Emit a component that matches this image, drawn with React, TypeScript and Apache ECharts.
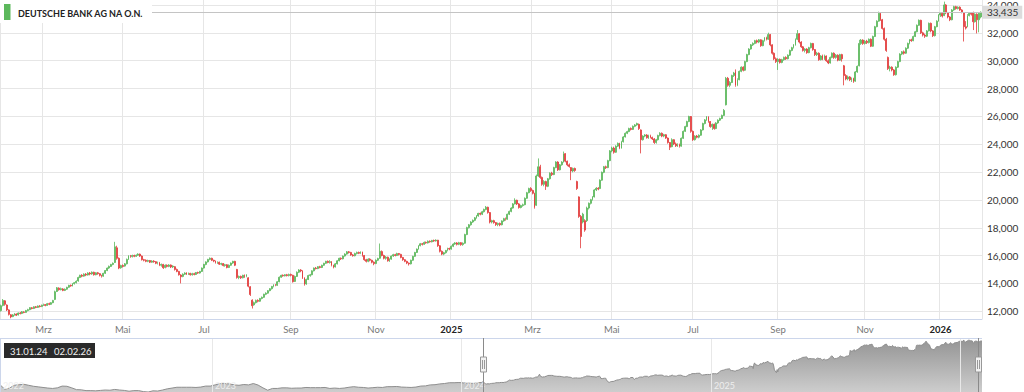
import React, { useEffect, useRef } from 'react';
import * as echarts from 'echarts';

const TITLE = 'DEUTSCHE BANK AG NA O.N.';
const FIRST_DAY = '2024-01-31';
const LAST_DAY = '2026-02-02';
const HOLIDAYS = [
  '2024-03-29', '2024-04-01', '2024-05-01', '2024-12-24', '2024-12-25', '2024-12-26', '2024-12-31',
  '2025-01-01', '2025-04-18', '2025-04-21', '2025-05-01', '2025-12-24', '2025-12-25', '2025-12-26',
  '2025-12-31', '2026-01-01',
];
const MONTHS_DE = ['Jan', 'Feb', 'Mrz', 'Apr', 'Mai', 'Jun', 'Jul', 'Aug', 'Sep', 'Okt', 'Nov', 'Dez'];
const LABEL_MONTHS = [0, 2, 4, 6, 8, 10];
const Y_TICK_MIN = 12;
const Y_TICK_MAX = 34;
const Y_TICK_STEP = 2;

// [open, close, low, high] per trading day
const CANDLES: number[][] = [
  [12.05, 12.40, 11.98, 12.48], [12.42, 12.78, 12.35, 12.88], [12.75, 12.50, 12.40, 12.80], [12.45, 12.10, 12.02, 12.50], [12.10, 11.78, 11.70, 12.15],
  [11.75, 11.60, 11.50, 11.80], [11.62, 11.74, 11.58, 11.80], [11.75, 11.82, 11.68, 11.88], [11.80, 11.72, 11.66, 11.85], [11.74, 11.88, 11.70, 11.92],
  [11.88, 11.84, 11.78, 11.95], [11.85, 11.96, 11.80, 12.02], [11.95, 11.92, 11.86, 12.00], [11.92, 12.05, 11.90, 12.10], [12.05, 12.12, 12.00, 12.18],
  [12.12, 12.26, 12.08, 12.30], [12.25, 12.20, 12.14, 12.30], [12.20, 12.32, 12.16, 12.36], [12.32, 12.28, 12.22, 12.38], [12.28, 12.38, 12.24, 12.42],
  [12.38, 12.34, 12.28, 12.44], [12.35, 12.44, 12.30, 12.48], [12.44, 12.48, 12.38, 12.55], [12.48, 12.42, 12.36, 12.52], [12.42, 12.55, 12.40, 12.60],
  [12.55, 12.50, 12.44, 12.62], [12.50, 12.62, 12.46, 12.66], [12.62, 12.78, 12.58, 12.82], [12.85, 13.40, 12.80, 13.48], [13.42, 13.68, 13.38, 13.74],
  [13.66, 13.55, 13.48, 13.72], [13.55, 13.62, 13.50, 13.70], [13.60, 13.50, 13.44, 13.66], [13.50, 13.58, 13.45, 13.64], [13.58, 13.72, 13.54, 13.76],
  [13.72, 13.86, 13.68, 13.90], [13.86, 13.82, 13.76, 13.92], [13.82, 13.98, 13.78, 14.02], [13.98, 14.05, 13.92, 14.10], [14.05, 14.15, 14.00, 14.22],
  [14.18, 14.42, 14.12, 14.48], [14.42, 14.58, 14.38, 14.62], [14.58, 14.52, 14.44, 14.66], [14.52, 14.66, 14.48, 14.72], [14.66, 14.60, 14.52, 14.74],
  [14.60, 14.74, 14.56, 14.80], [14.74, 14.68, 14.58, 14.82], [14.68, 14.80, 14.62, 14.86], [14.80, 14.62, 14.56, 14.84], [14.62, 14.76, 14.58, 14.80],
  [14.76, 14.70, 14.62, 14.82], [14.70, 14.58, 14.50, 14.74], [14.58, 14.50, 14.42, 14.62], [14.52, 14.72, 14.48, 14.76], [14.72, 14.92, 14.68, 14.96],
  [14.92, 15.10, 14.88, 15.14], [15.10, 15.22, 15.04, 15.28], [15.22, 15.36, 15.18, 15.40], [15.36, 15.44, 15.30, 15.50], [15.50, 16.62, 15.46, 16.98],
  [16.55, 15.80, 15.70, 16.70], [15.80, 15.10, 15.02, 15.86], [15.12, 15.28, 15.05, 15.34], [15.28, 15.22, 15.14, 15.36], [15.24, 15.40, 15.20, 15.46],
  [15.40, 15.72, 15.36, 15.78], [15.72, 15.96, 15.68, 16.02], [15.96, 15.92, 15.84, 16.04], [15.92, 16.00, 15.86, 16.06], [16.00, 15.94, 15.88, 16.06],
  [15.94, 16.02, 15.90, 16.08], [16.02, 16.10, 15.98, 16.16], [16.10, 15.96, 15.90, 16.14], [15.96, 15.70, 15.64, 16.00], [15.70, 15.66, 15.58, 15.76],
  [15.66, 15.58, 15.52, 15.72], [15.58, 15.64, 15.52, 15.70], [15.64, 15.52, 15.46, 15.68], [15.52, 15.60, 15.48, 15.66], [15.60, 15.56, 15.48, 15.66],
  [15.56, 15.44, 15.38, 15.60], [15.44, 15.50, 15.36, 15.56], [15.50, 15.30, 15.24, 15.54], [15.30, 15.36, 15.20, 15.42], [15.36, 15.12, 15.04, 15.40],
  [15.14, 15.30, 15.08, 15.36], [15.30, 15.22, 15.14, 15.36], [15.22, 15.32, 15.16, 15.38], [15.32, 15.18, 15.10, 15.36], [15.18, 15.24, 15.10, 15.30],
  [15.20, 15.00, 14.92, 15.24], [15.00, 14.86, 14.80, 15.06], [14.86, 14.62, 14.56, 14.90], [14.60, 14.48, 14.00, 14.66], [14.50, 14.66, 14.44, 14.72],
  [14.66, 14.74, 14.60, 14.80], [14.74, 14.66, 14.60, 14.80], [14.66, 14.72, 14.60, 14.78], [14.72, 14.62, 14.56, 14.76], [14.62, 14.70, 14.56, 14.76],
  [14.70, 14.64, 14.58, 14.76], [14.64, 14.78, 14.60, 14.82], [14.78, 14.74, 14.68, 14.84], [14.74, 14.86, 14.70, 14.90], [14.86, 15.10, 14.82, 15.14],
  [15.10, 15.36, 15.06, 15.40], [15.36, 15.54, 15.30, 15.58], [15.54, 15.72, 15.50, 15.76], [15.72, 15.80, 15.66, 15.86], [15.80, 15.66, 15.60, 15.84],
  [15.66, 15.60, 15.52, 15.70], [15.60, 15.48, 15.42, 15.64], [15.48, 15.52, 15.40, 15.58], [15.52, 15.38, 15.32, 15.56], [15.38, 15.42, 15.30, 15.48],
  [15.42, 15.28, 15.22, 15.46], [15.28, 15.34, 15.20, 15.40], [15.34, 15.14, 15.08, 15.38], [15.14, 15.30, 15.10, 15.36], [15.30, 15.46, 15.26, 15.50],
  [15.46, 15.58, 15.40, 15.62], [15.58, 15.30, 15.24, 15.62], [15.00, 14.42, 14.34, 15.04], [14.42, 14.50, 14.30, 14.56], [14.50, 14.40, 14.32, 14.56],
  [14.40, 14.58, 14.36, 14.62], [14.58, 14.48, 14.40, 14.64], [14.50, 14.60, 14.44, 14.66], [14.40, 13.80, 13.72, 14.44], [13.76, 13.20, 13.10, 13.80],
  [12.80, 12.40, 12.20, 12.86], [12.46, 12.62, 12.40, 12.70], [12.62, 12.78, 12.56, 12.84], [12.78, 12.72, 12.64, 12.86], [12.72, 12.92, 12.68, 12.96],
  [12.92, 13.00, 12.86, 13.06], [13.00, 13.22, 12.96, 13.26], [13.22, 13.30, 13.16, 13.36], [13.30, 13.48, 13.26, 13.52], [13.48, 13.62, 13.44, 13.66],
  [13.62, 13.78, 13.56, 13.82], [13.78, 13.90, 13.72, 13.94], [13.90, 13.86, 13.80, 13.96], [13.86, 14.12, 13.82, 14.16], [14.12, 14.44, 14.08, 14.50],
  [14.44, 14.58, 14.40, 14.62], [14.58, 14.54, 14.48, 14.64], [14.54, 14.62, 14.50, 14.66], [14.62, 14.56, 14.50, 14.68], [14.56, 14.64, 14.50, 14.70],
  [14.64, 14.58, 14.50, 14.70], [14.58, 14.12, 14.06, 14.62], [14.14, 14.50, 14.10, 14.56], [14.50, 14.80, 14.46, 14.86], [14.80, 14.96, 14.74, 15.02],
  [14.96, 14.90, 14.80, 15.02], [14.90, 14.40, 14.32, 14.94], [14.40, 13.92, 13.84, 14.44], [13.96, 14.28, 13.90, 14.34], [14.28, 14.56, 14.24, 14.62],
  [14.56, 14.62, 14.48, 14.68], [14.62, 14.90, 14.58, 14.94], [14.90, 15.10, 14.86, 15.14], [15.10, 15.06, 15.00, 15.18], [15.06, 15.20, 15.02, 15.24],
  [15.20, 15.14, 15.08, 15.26], [15.14, 15.30, 15.10, 15.34], [15.30, 15.44, 15.26, 15.48], [15.44, 15.58, 15.40, 15.62], [15.58, 15.50, 15.44, 15.64],
  [15.50, 15.56, 15.42, 15.66], [15.56, 15.30, 15.22, 15.60], [15.30, 15.18, 15.08, 15.34], [15.18, 15.40, 15.14, 15.46], [15.40, 15.62, 15.36, 15.66],
  [15.62, 15.80, 15.58, 15.84], [15.80, 15.76, 15.68, 15.86], [15.76, 15.96, 15.72, 16.00], [15.96, 16.10, 15.92, 16.16], [16.10, 16.26, 16.06, 16.32],
  [16.26, 16.22, 16.14, 16.32], [16.22, 16.04, 15.98, 16.26], [16.04, 15.98, 15.92, 16.10], [15.98, 16.14, 15.94, 16.20], [16.14, 16.22, 16.08, 16.28],
  [16.22, 16.16, 16.10, 16.28], [16.16, 16.24, 16.10, 16.30], [16.24, 16.00, 15.92, 16.28], [16.00, 15.70, 15.62, 16.04], [15.70, 15.58, 15.50, 15.76],
  [15.58, 15.74, 15.52, 15.80], [15.74, 15.66, 15.58, 15.80], [15.66, 15.52, 15.44, 15.70], [15.52, 15.42, 15.30, 15.58], [15.42, 15.66, 15.38, 15.72],
  [15.66, 15.78, 15.60, 15.84], [15.80, 16.30, 15.76, 16.86], [16.28, 16.00, 15.94, 16.36], [16.00, 15.80, 15.72, 16.06], [15.80, 15.88, 15.70, 15.96],
  [15.88, 15.62, 15.56, 15.92], [15.62, 15.74, 15.54, 15.80], [15.74, 15.96, 15.70, 16.00], [15.96, 16.06, 15.90, 16.12], [16.06, 16.00, 15.94, 16.12],
  [16.00, 16.14, 15.96, 16.20], [16.14, 16.08, 16.00, 16.18], [16.08, 15.86, 15.80, 16.12], [15.86, 15.70, 15.62, 15.90], [15.70, 15.58, 15.52, 15.74],
  [15.58, 15.46, 15.38, 15.62], [15.46, 15.40, 15.28, 15.50], [15.40, 15.66, 15.36, 15.70], [15.66, 15.94, 15.62, 15.98], [15.94, 16.22, 15.90, 16.26],
  [16.22, 16.46, 16.18, 16.50], [16.46, 16.70, 16.42, 16.74], [16.70, 16.84, 16.66, 16.90], [16.84, 16.80, 16.72, 16.90], [16.80, 16.94, 16.76, 17.00],
  [16.94, 16.90, 16.84, 17.00], [16.90, 17.02, 16.86, 17.08], [17.02, 16.98, 16.92, 17.08], [16.98, 17.08, 16.94, 17.12], [17.08, 17.04, 16.98, 17.14],
  [17.04, 17.10, 17.00, 17.16], [17.10, 16.70, 16.62, 17.12], [16.70, 16.30, 16.22, 16.74], [16.30, 16.10, 16.02, 16.36], [16.10, 16.20, 16.02, 16.26],
  [16.20, 16.36, 16.14, 16.40], [16.36, 16.50, 16.30, 16.56], [16.50, 16.46, 16.38, 16.56], [16.46, 16.66, 16.42, 16.72], [16.66, 16.82, 16.60, 16.88],
  [16.82, 16.90, 16.76, 16.96], [16.90, 16.80, 16.72, 16.96], [16.80, 16.92, 16.74, 16.98], [16.92, 16.78, 16.70, 16.96], [16.78, 16.88, 16.70, 16.94],
  [16.88, 17.50, 16.84, 17.56], [17.50, 18.00, 17.46, 18.06], [18.00, 18.20, 17.94, 18.26], [18.20, 18.40, 18.14, 18.46], [18.40, 18.52, 18.34, 18.58],
  [18.52, 18.70, 18.46, 18.76], [18.70, 18.84, 18.64, 18.90], [18.84, 19.02, 18.78, 19.06], [19.02, 18.96, 18.88, 19.08], [18.96, 19.14, 18.90, 19.20],
  [19.14, 19.30, 19.08, 19.36], [19.30, 19.46, 19.24, 19.55], [19.46, 19.08, 19.00, 19.50], [19.08, 18.40, 18.30, 19.12], [18.40, 18.50, 18.30, 18.56],
  [18.50, 18.36, 18.28, 18.56], [18.36, 18.22, 18.12, 18.40], [18.22, 18.30, 18.10, 18.36], [18.30, 18.20, 18.10, 18.36], [18.20, 18.48, 18.16, 18.52],
  [18.48, 18.64, 18.42, 18.70], [18.64, 18.60, 18.50, 18.72], [18.60, 18.96, 18.56, 19.00], [18.96, 19.16, 18.90, 19.22], [19.16, 19.40, 19.10, 19.46],
  [19.40, 19.70, 19.36, 19.76], [19.70, 19.96, 19.66, 20.10], [19.96, 19.70, 19.62, 20.00], [19.70, 19.44, 19.36, 19.76], [19.44, 19.58, 19.38, 19.64],
  [19.58, 19.64, 19.50, 19.72], [19.64, 20.10, 19.60, 20.16], [20.10, 20.50, 20.06, 20.56], [20.50, 20.80, 20.46, 20.86], [20.80, 20.66, 20.56, 20.90],
  [20.66, 20.46, 20.38, 20.72], [20.46, 19.44, 19.36, 20.50], [19.60, 21.70, 19.56, 21.80], [21.70, 22.36, 21.64, 22.96], [22.36, 21.60, 21.50, 22.50],
  [21.60, 21.10, 21.00, 21.66], [21.10, 21.30, 20.96, 21.40], [21.30, 20.96, 20.70, 21.36], [20.96, 21.50, 20.90, 21.56], [21.50, 21.90, 21.44, 21.96],
  [21.90, 21.80, 21.70, 22.00], [21.80, 22.30, 21.76, 22.36], [22.30, 22.70, 22.26, 22.76], [22.70, 22.14, 22.06, 22.76], [22.14, 22.50, 22.10, 22.56],
  [22.50, 22.70, 22.44, 22.76], [22.70, 23.30, 22.66, 23.45], [23.30, 22.76, 22.68, 23.34], [22.76, 22.50, 22.40, 22.80], [22.50, 22.38, 22.30, 22.60],
  [22.30, 22.06, 21.40, 22.34], [22.06, 22.24, 21.96, 22.30], [22.24, 22.10, 22.00, 22.30], [21.30, 20.80, 20.70, 21.36], [20.20, 18.80, 18.70, 20.24],
  [18.80, 17.36, 16.52, 18.90], [18.40, 18.96, 18.30, 19.06], [18.50, 17.82, 17.70, 18.60], [18.50, 19.40, 18.40, 19.50], [19.40, 19.74, 19.30, 19.80],
  [19.74, 20.00, 19.66, 20.06], [20.00, 20.20, 19.94, 20.26], [20.20, 20.70, 20.16, 20.76], [20.70, 20.82, 20.62, 20.90], [20.82, 20.76, 20.68, 20.90],
  [20.80, 21.40, 20.76, 21.46], [21.40, 21.96, 21.36, 22.02], [21.96, 22.36, 21.90, 22.42], [22.36, 22.30, 22.20, 22.44], [22.30, 22.80, 22.26, 22.86],
  [22.80, 23.50, 22.76, 23.56], [23.50, 23.70, 23.40, 23.80], [23.70, 23.40, 23.30, 23.80], [23.40, 23.84, 23.36, 23.90], [23.84, 24.04, 23.78, 24.10],
  [24.04, 23.70, 23.62, 24.08], [23.70, 24.16, 23.66, 24.22], [24.16, 24.50, 24.10, 24.56], [24.50, 24.76, 24.46, 24.82], [24.76, 24.88, 24.70, 24.94],
  [24.88, 25.10, 24.84, 25.16], [25.10, 25.04, 24.96, 25.18], [25.04, 25.26, 25.00, 25.32], [25.26, 25.36, 25.20, 25.42], [25.36, 25.46, 25.30, 25.52],
  [25.40, 25.10, 25.00, 25.46], [25.00, 24.30, 23.32, 25.04], [24.30, 24.56, 24.24, 24.62], [24.56, 24.64, 24.48, 24.70], [24.64, 24.44, 24.38, 24.70],
  [24.44, 24.60, 24.36, 24.66], [24.60, 24.46, 24.40, 24.66], [24.46, 24.36, 24.28, 24.52], [24.36, 24.10, 24.00, 24.42], [24.10, 24.30, 24.02, 24.36],
  [24.30, 24.60, 24.24, 24.66], [24.60, 24.76, 24.54, 24.84], [24.76, 24.56, 24.48, 24.82], [24.56, 24.66, 24.48, 24.72], [24.66, 24.42, 24.36, 24.70],
  [24.42, 24.10, 24.02, 24.46], [24.10, 23.76, 23.56, 24.14], [23.80, 24.30, 23.76, 24.40], [24.30, 24.00, 23.92, 24.34], [24.00, 23.86, 23.78, 24.10],
  [23.86, 23.96, 23.78, 24.04], [23.96, 23.84, 23.74, 24.02], [23.84, 24.40, 23.80, 24.46], [24.40, 24.90, 24.36, 24.96], [24.90, 25.24, 24.86, 25.30],
  [25.24, 25.60, 25.20, 25.66], [25.60, 25.96, 25.56, 26.02], [25.96, 24.90, 24.80, 26.00], [24.90, 24.30, 24.22, 24.96], [24.30, 24.56, 24.24, 24.62],
  [24.56, 24.48, 24.40, 24.64], [24.48, 24.62, 24.40, 24.68], [24.62, 25.00, 24.58, 25.06], [25.00, 25.46, 24.96, 25.52], [25.46, 25.72, 25.40, 25.78],
  [25.72, 25.94, 25.66, 26.00], [25.94, 25.60, 25.52, 25.98], [25.60, 25.24, 25.16, 25.64], [25.24, 25.40, 25.00, 25.46], [25.40, 25.10, 25.02, 25.46],
  [25.10, 25.50, 25.06, 25.56], [25.50, 25.70, 25.44, 25.76], [25.70, 25.82, 25.64, 25.88], [25.82, 26.04, 25.78, 26.10], [26.04, 26.40, 26.00, 26.50],
  [26.80, 28.70, 26.76, 28.80], [28.70, 28.20, 28.10, 28.80], [28.20, 28.40, 28.06, 28.50], [28.40, 28.90, 28.36, 28.96], [28.90, 29.08, 28.80, 29.16],
  [29.20, 28.20, 28.10, 29.34], [28.20, 28.60, 28.14, 28.70], [28.60, 29.20, 28.56, 29.26], [29.20, 29.50, 29.14, 29.56], [29.50, 29.28, 29.20, 29.56],
  [29.28, 29.90, 29.24, 29.96], [29.90, 30.40, 29.86, 30.46], [30.40, 30.80, 30.36, 30.86], [30.80, 31.10, 30.76, 31.16], [31.10, 31.20, 31.02, 31.28],
  [31.20, 31.40, 31.14, 31.46], [31.40, 31.30, 31.20, 31.48], [31.30, 31.46, 31.22, 31.52], [31.46, 31.04, 30.96, 31.50], [31.04, 31.40, 31.00, 31.46],
  [31.40, 31.60, 31.34, 31.66], [31.60, 31.50, 31.42, 31.68], [31.50, 31.84, 31.46, 31.97], [31.84, 31.10, 31.00, 31.88], [31.10, 30.50, 30.40, 31.14],
  [30.50, 30.10, 30.00, 30.56], [30.10, 29.90, 29.80, 30.20], [29.90, 30.06, 29.30, 30.14], [30.06, 29.84, 29.76, 30.12], [29.84, 30.04, 29.78, 30.10],
  [30.04, 30.20, 29.96, 30.26], [30.20, 30.10, 30.02, 30.28], [30.10, 30.36, 30.06, 30.42], [30.36, 30.70, 30.30, 30.76], [30.70, 30.90, 30.64, 30.96],
  [30.90, 31.10, 30.84, 31.16], [31.10, 31.50, 31.04, 31.56], [31.50, 31.90, 31.44, 32.16], [31.90, 31.30, 31.20, 31.94], [31.30, 30.96, 30.88, 31.36],
  [30.96, 30.70, 30.62, 31.02], [30.70, 30.80, 30.56, 30.86], [30.80, 30.54, 30.46, 30.86], [30.54, 30.90, 30.50, 30.96], [30.90, 31.20, 30.84, 31.26],
  [31.20, 30.76, 30.68, 31.24], [30.76, 30.40, 30.30, 30.80], [30.40, 30.50, 30.30, 30.60], [30.50, 30.04, 29.96, 30.56], [30.04, 30.30, 29.98, 30.36],
  [30.30, 30.10, 30.00, 30.40], [30.10, 30.30, 30.02, 30.40], [30.30, 29.96, 29.88, 30.34], [29.96, 29.80, 29.72, 30.06], [29.80, 30.20, 29.76, 30.26],
  [30.20, 30.50, 30.14, 30.56], [30.50, 30.20, 30.10, 30.56], [30.20, 30.36, 30.10, 30.44], [30.36, 30.00, 29.92, 30.42], [30.00, 30.40, 29.94, 30.46],
  [30.40, 30.10, 29.90, 30.46], [29.60, 28.90, 28.20, 29.66], [28.90, 28.66, 28.56, 29.00], [28.66, 28.80, 28.56, 28.90], [28.80, 28.60, 28.50, 28.86],
  [28.60, 28.70, 28.44, 28.76], [28.70, 28.46, 28.38, 28.74], [28.50, 29.16, 28.46, 29.22], [29.16, 29.56, 29.10, 29.62], [29.60, 31.20, 29.56, 31.46],
  [31.20, 31.44, 31.10, 31.52], [31.44, 31.20, 31.10, 31.50], [31.20, 31.36, 31.12, 31.44], [31.36, 31.26, 31.16, 31.46], [31.26, 31.50, 31.20, 31.56],
  [31.50, 31.00, 30.94, 31.56], [31.00, 31.70, 30.96, 31.76], [31.70, 32.40, 31.66, 32.46], [32.40, 32.80, 32.36, 32.86], [32.80, 33.36, 32.76, 33.48],
  [33.36, 32.90, 32.82, 33.42], [32.90, 32.28, 32.20, 32.96], [32.28, 31.50, 31.40, 32.34], [31.50, 30.70, 30.60, 31.60], [30.20, 29.40, 29.30, 30.26],
  [29.40, 29.50, 29.20, 29.60], [29.50, 29.30, 29.20, 29.56], [29.30, 28.96, 28.88, 29.36], [28.96, 29.50, 28.90, 29.56], [29.50, 29.90, 29.44, 29.96],
  [29.90, 30.44, 29.86, 30.50], [30.44, 30.60, 30.36, 30.66], [30.60, 30.50, 30.40, 30.70], [30.50, 30.86, 30.46, 30.92], [30.86, 31.20, 30.80, 31.26],
  [31.20, 31.46, 31.14, 31.52], [31.46, 31.40, 31.32, 31.54], [31.40, 31.70, 31.36, 31.76], [31.70, 32.04, 31.66, 32.10], [32.04, 32.50, 32.00, 32.56],
  [32.50, 32.86, 32.46, 32.92], [32.86, 31.96, 31.88, 32.90], [31.96, 31.80, 31.70, 32.04], [31.80, 31.72, 31.60, 31.90], [31.72, 32.10, 31.66, 32.16],
  [32.10, 32.64, 32.06, 32.70], [32.64, 32.10, 32.00, 32.70], [32.10, 31.76, 31.66, 32.16], [31.76, 32.40, 31.70, 32.46], [32.40, 32.80, 32.36, 32.86],
  [32.80, 33.24, 32.76, 33.30], [33.24, 33.36, 33.10, 33.44], [33.36, 33.16, 33.06, 33.42], [33.20, 33.96, 33.16, 34.20], [33.96, 33.40, 33.30, 34.02],
  [33.40, 33.10, 33.00, 33.46], [33.10, 32.90, 32.80, 33.16], [32.90, 33.60, 32.86, 33.66], [33.60, 33.84, 33.54, 33.90], [33.84, 33.70, 33.62, 33.90],
  [33.70, 33.80, 33.64, 33.86], [33.80, 33.60, 33.54, 33.86], [33.60, 33.44, 33.36, 33.66], [33.40, 32.40, 31.34, 33.44], [32.40, 32.30, 32.20, 32.80],
  [32.40, 33.20, 32.36, 33.30], [33.20, 33.36, 33.14, 33.44], [33.36, 33.30, 33.20, 33.42], [33.40, 32.76, 32.16, 33.48], [32.76, 33.30, 32.70, 33.36],
  [33.30, 32.90, 31.92, 33.36], [32.90, 33.36, 32.00, 33.44], [33.10, 33.435, 33.00, 33.50],
];

// Navigator history before the visible window: weekly closes starting NAV_START
const NAV_START = '2022-02-25';
const NAV_WEEKLY = [
  11.3, 9.0, 9.6, 11.0, 11.3, 11.5, 11.0, 10.5, 10.2, 9.9,
  9.6, 9.4, 9.7, 10.6, 10.5, 9.7, 8.8, 8.7, 8.3, 8.3,
  8.2, 8.4, 8.6, 8.5, 8.9, 8.6, 8.4, 8.0, 8.3, 8.3,
  7.8, 7.6, 8.2, 8.1, 8.6, 9.2, 9.6, 10.0, 10.0, 10.0,
  10.0, 9.9, 10.1, 10.6, 10.6, 11.2, 11.8, 11.9, 11.7, 11.2,
  11.0, 11.4, 11.2, 11.9, 11.1, 9.7, 8.5, 9.4, 9.4, 9.7,
  9.7, 9.5, 9.6, 9.6, 9.9, 9.8, 9.8, 9.8, 9.9, 9.4,
  9.6, 9.4, 9.6, 10.0, 10.3, 10.0, 9.9, 9.6, 9.8, 10.0,
  9.9, 10.3, 10.3, 10.4, 10.1, 10.0, 9.9, 10.1, 10.6, 10.7,
  11.2, 11.3, 11.7, 11.9, 12.3, 12.3, 12.4, 12.2, 12.1, 11.9,
  12.3,
];
const NAV_YEAR_LABELS = ['2022', '2023', '2024', '2025'];

const GREEN = '#5cb85c';
const RED = '#e23b3b';

function iso(d: Date) {
  return d.toISOString().slice(0, 10);
}

function tradingDays(from: string, to: string, holidays: string[]) {
  const out: string[] = [];
  const d = new Date(from + 'T00:00:00Z');
  const end = new Date(to + 'T00:00:00Z');
  while (d <= end) {
    const wd = d.getUTCDay();
    const s = iso(d);
    if (wd !== 0 && wd !== 6 && holidays.indexOf(s) < 0) out.push(s);
    d.setUTCDate(d.getUTCDate() + 1);
  }
  return out;
}

function weeklyDates(from: string, n: number) {
  const out: string[] = [];
  const d = new Date(from + 'T00:00:00Z');
  for (let i = 0; i < n; i++) {
    out.push(iso(d));
    d.setUTCDate(d.getUTCDate() + 7);
  }
  return out;
}

const fmtPrice = (v: number) => v.toFixed(3).replace('.', ',');
const fmtShort = (s: string) => `${s.slice(8, 10)}.${s.slice(5, 7)}.${s.slice(2, 4)}`;
const localTs = (s: string) => new Date(s + 'T00:00:00').getTime();

export default function App() {
  const ref = useRef<HTMLDivElement>(null);

  useEffect(() => {
    if (!ref.current) return;
    const chart = echarts.init(ref.current, undefined, { renderer: 'svg' });

    const dates = tradingDays(FIRST_DAY, LAST_DAY, HOLIDAYS);
    const labelSet = new Set<number>();
    for (let i = 1; i < dates.length; i++) {
      const m = +dates[i].slice(5, 7) - 1;
      const pm = +dates[i - 1].slice(5, 7) - 1;
      if (m !== pm && LABEL_MONTHS.indexOf(m) >= 0) labelSet.add(i);
    }

    const lastClose = CANDLES[CANDLES.length - 1][1];

    const navDates = weeklyDates(NAV_START, NAV_WEEKLY.length);
    const navData: [number, number][] = navDates.map((d, i) => [localTs(d), NAV_WEEKLY[i]]);
    dates.forEach((d, i) => navData.push([localTs(d), CANDLES[i][1]]));

    const mainTop = 0;
    const mainBottom = 319;
    const tickTop = 4.4;
    const tickBottom = 311.3;
    const pxPer = (tickBottom - tickTop) / (Y_TICK_MAX - Y_TICK_MIN);
    const yMin0 = Y_TICK_MIN - (mainBottom - tickBottom) / pxPer;
    const yMax0 = Y_TICK_MAX + (tickTop - mainTop) / pxPer;

    const navTop = 338;
    const navHeight = 54;
    const navMin = localTs(NAV_START);
    const navMax = localTs(LAST_DAY);

    const option: any = {
      animation: false,
      textStyle: { fontFamily: 'Lato' },
      grid: [
        { left: 0, right: 42, top: mainTop, height: mainBottom - mainTop },
        { left: 0, right: 42, top: tickTop, height: tickBottom - tickTop },
        { left: 0, right: 42, top: navTop, height: navHeight },
      ],
      xAxis: [
        {
          type: 'category', gridIndex: 0, data: dates, boundaryGap: true,
          axisLine: { show: true, lineStyle: { color: '#ccd6eb' } },
          axisTick: { show: false },
          axisLabel: {
            interval: (i: number) => labelSet.has(i),
            formatter: (v: string) => {
              const m = +v.slice(5, 7) - 1;
              return m === 0 ? `{y|${v.slice(0, 4)}}` : MONTHS_DE[m];
            },
            color: '#777', fontSize: 9.5, margin: 5, fontFamily: 'Lato',
            rich: { y: { fontWeight: 'bold', color: '#222', fontSize: 9.5, fontFamily: 'Lato' } },
          },
          splitLine: { show: true, interval: (i: number) => labelSet.has(i), lineStyle: { color: '#e6e6e6' } },
        },
        { type: 'category', gridIndex: 1, data: dates, show: false, boundaryGap: true },
        {
          type: 'time', gridIndex: 2, min: navMin, max: navMax,
          axisLine: { show: false }, axisTick: { show: false },
          axisLabel: { show: false },
          splitLine: { show: false },
        },
      ],
      yAxis: [
        {
          type: 'value', gridIndex: 0, min: yMin0, max: yMax0, position: 'left',
          axisLine: { show: true, lineStyle: { color: '#e6e6e6' } },
          axisLabel: { show: false }, axisTick: { show: false }, splitLine: { show: false },
        },
        {
          type: 'value', gridIndex: 1, min: Y_TICK_MIN, max: Y_TICK_MAX, interval: Y_TICK_STEP, position: 'right',
          axisLine: { show: false }, axisTick: { show: false },
          axisLabel: { formatter: fmtPrice, color: '#333', fontSize: 10, margin: 5, fontFamily: 'Lato' },
          splitLine: { show: true, lineStyle: { color: '#e6e6e6' } },
        },
        {
          type: 'value', gridIndex: 2, show: false, scale: true,
          min: (v: any) => v.min, max: (v: any) => v.max + 1,
        },
      ],
      series: [
        {
          type: 'candlestick', xAxisIndex: 0, yAxisIndex: 0,
          data: CANDLES.map((c) => [c[0], c[1], c[2], c[3]]),
          barWidth: 1.4,
          itemStyle: { color: GREEN, color0: RED, borderColor: GREEN, borderColor0: RED, borderWidth: 0.8 },
          silent: true,
          markLine: {
            silent: true, symbol: ['none', 'none'], animation: false,
            lineStyle: { color: '#c4c4c4', type: 'solid', width: 1 },
            label: {
              show: true, position: 'end', formatter: fmtPrice(lastClose), distance: 0,
              backgroundColor: '#dcdcdc', color: '#333', fontSize: 10, padding: [2, 4, 1, 5], fontFamily: 'Lato',
            },
            data: [{ yAxis: lastClose }],
          },
        },
        {
          type: 'line', xAxisIndex: 2, yAxisIndex: 2, data: navData,
          showSymbol: false, symbol: 'none', silent: true,
          lineStyle: { color: '#8e8e8e', width: 1 },
          areaStyle: {
            color: new echarts.graphic.LinearGradient(0, 0, 0, 1, [
              { offset: 0, color: '#959595' },
              { offset: 1, color: '#cdcdcd' },
            ]),
            opacity: 1,
          },
        },
      ],
    };

    chart.setOption(option);

    const toNavX = (ts: number) => chart.convertToPixel({ xAxisIndex: 2 } as any, ts) as number;
    const x0 = Math.round(toNavX(localTs(dates[0]))) + 2.5;
    const x1 = Math.min(Math.round(toNavX(localTs(dates[dates.length - 1]))), 982) - 3.5;

    const yearEls: any[] = [];
    NAV_YEAR_LABELS.forEach((y, i) => {
      const ts = Math.max(localTs(`${y}-01-01`), navMin);
      const x = Math.round(toNavX(ts)) + 0.5;
      if (i > 0) {
        yearEls.push({
          id: 'yl' + y, type: 'line', z: 18,
          shape: { x1: x, y1: navTop, x2: x, y2: navTop + navHeight },
          style: { stroke: '#e8e8e8', lineWidth: 1 },
        });
      }
      yearEls.push({
        id: 'yt' + y, type: 'text', z: 18, x: x + 2.5, y: navTop + navHeight - 7,
        style: { text: y, font: '9px Lato', fill: '#eeeeee', verticalAlign: 'middle' },
      });
    });
    {
      const x = Math.round(toNavX(localTs('2026-01-01'))) + 0.5;
      yearEls.push({
        id: 'yl2026', type: 'line', z: 18,
        shape: { x1: x, y1: navTop, x2: x, y2: navTop + navHeight },
        style: { stroke: '#e8e8e8', lineWidth: 1 },
      });
    }

    const handle = (x: number, id: string) => [
      { id: id + 'l', type: 'line', z: 20, shape: { x1: x, y1: navTop, x2: x, y2: navTop + navHeight }, style: { stroke: '#8a8a8a', lineWidth: 1 } },
      { id: id + 'r', type: 'rect', z: 21, shape: { x: x - 3, y: 357, width: 6, height: 15 }, style: { fill: '#f2f2f2', stroke: '#999', lineWidth: 1 } },
      { id: id + 'a', type: 'line', z: 22, shape: { x1: x - 1, y1: 360, x2: x - 1, y2: 369 }, style: { stroke: '#999', lineWidth: 1 } },
      { id: id + 'b', type: 'line', z: 22, shape: { x1: x + 1, y1: 360, x2: x + 1, y2: 369 }, style: { stroke: '#999', lineWidth: 1 } },
    ];

    chart.setOption({
      graphic: [
        { id: 'legbg', type: 'rect', z: 30, shape: { x: 0, y: 0, width: 152, height: 23 }, style: { fill: '#ffffff' } },
        { id: 'legsym', type: 'rect', z: 31, shape: { x: 4, y: 4, width: 6.5, height: 16 }, style: { fill: GREEN } },
        {
          id: 'legtxt', type: 'text', z: 31, x: 18, y: 13,
          style: { text: TITLE, font: 'bold 9px Lato', fill: '#222', verticalAlign: 'middle' },
        },
        ...yearEls,
        { id: 'navtop', type: 'line', z: 19, shape: { x1: 0, y1: navTop + 0.5, x2: 982, y2: navTop + 0.5 }, style: { stroke: '#ccd6eb', lineWidth: 1 } },
        { id: 'navleft', type: 'line', z: 19, shape: { x1: 0.5, y1: navTop, x2: 0.5, y2: navTop + navHeight }, style: { stroke: '#ccd6eb', lineWidth: 1 } },
        ...handle(x0, 'h0'),
        ...handle(x1, 'h1'),
        { id: 'dbox', type: 'rect', z: 25, shape: { x: 4, y: 343, width: 91, height: 15 }, style: { fill: '#2a2a2a' } },
        {
          id: 'd0', type: 'text', z: 26, x: 10, y: 351,
          style: { text: fmtShort(dates[0]), font: '9.5px Lato', fill: '#f0f0f0', verticalAlign: 'middle' },
        },
        {
          id: 'd1', type: 'text', z: 26, x: 54, y: 351,
          style: { text: fmtShort(dates[dates.length - 1]), font: '9.5px Lato', fill: '#f0f0f0', verticalAlign: 'middle' },
        },
      ],
    });

    return () => chart.dispose();
  }, []);

  return <div ref={ref} style={{ position: 'absolute', left: 0, top: 0, width: 1024, height: 392 }} />;
}
